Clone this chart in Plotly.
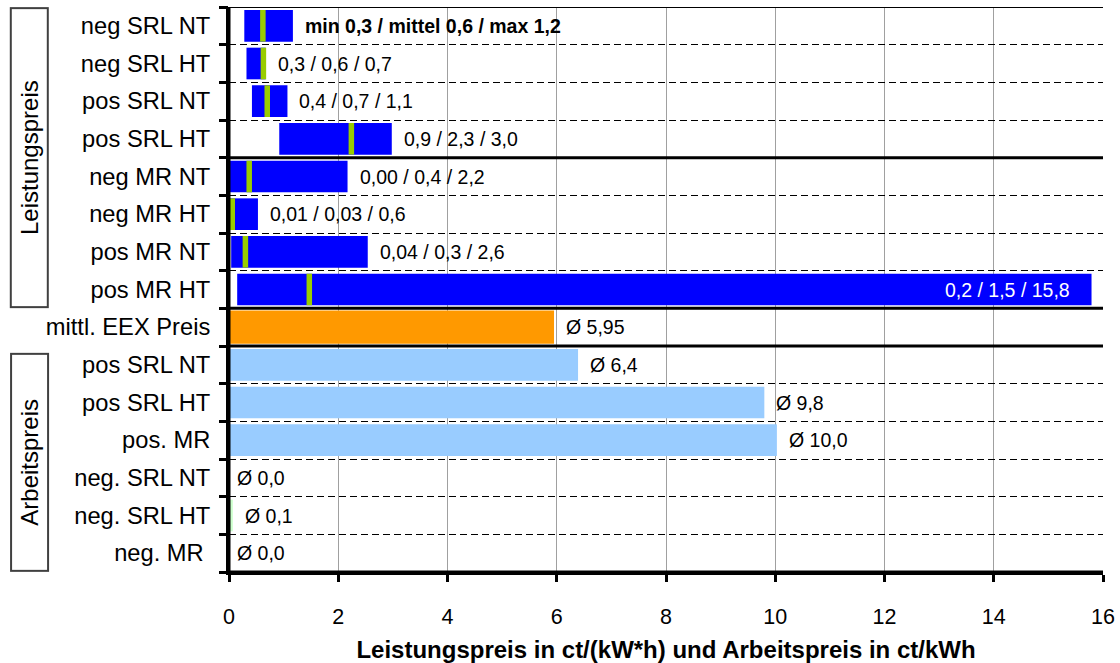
import plotly.graph_objects as go

# ---- data -------------------------------------------------------------
categories = ["neg SRL NT", "neg SRL HT", "pos SRL NT", "pos SRL HT",
              "neg MR NT", "neg MR HT", "pos MR NT", "pos MR HT",
              "mittl. EEX Preis",
              "pos SRL NT", "pos SRL HT", "pos. MR",
              "neg. SRL NT", "neg. SRL HT", "neg. MR\u00a0"]

# Leistungspreis (min / mean / max), ct/(kW*h)
lp_min = [0.28, 0.32, 0.42, 0.92, 0.00, 0.01, 0.04, 0.15]
lp_mean = [0.62, 0.63, 0.70, 2.24, 0.37, 0.06, 0.30, 1.47]
lp_max = [1.17, 0.67, 1.07, 2.98, 2.17, 0.53, 2.54, 15.79]
lp_labels = ["<b>min 0,3 / mittel 0,6 / max 1,2</b>", "0,3 / 0,6 / 0,7",
             "0,4 / 0,7 / 1,1", "0,9 / 2,3 / 3,0", "0,00 / 0,4 / 2,2",
             "0,01 / 0,03 / 0,6", "0,04 / 0,3 / 2,6", "0,2 / 1,5 / 15,8"]

# mittlerer EEX Preis, ct/kWh
eex_value = [5.95]
eex_labels = ["Ø 5,95"]

# Arbeitspreis, ct/kWh
ap_values = [6.39, 9.80, 10.03, 0.0, 0.07, 0.0]
ap_labels = ["Ø 6,4", "Ø 9,8", "Ø 10,0", "Ø 0,0", "Ø 0,1", "Ø 0,0"]

x_ticks = [0, 2, 4, 6, 8, 10, 12, 14, 16]

# ---- styling ------------------------------------------------------------
FONT = "Liberation Sans, Arial, sans-serif"
BLUE = "#0000FF"
GREEN = "#99CC00"
ORANGE = "#FF9900"
LIGHTBLUE = "#99CCFF"
LIGHTGREEN = "#CCFFCC"

n_lp = len(lp_min)
lp_rows = list(range(n_lp))
eex_rows = [n_lp]
ap_rows = list(range(n_lp + 1, n_lp + 1 + len(ap_values)))
n_rows = len(categories)
ap_colors = [LIGHTBLUE if v > 1 else LIGHTGREEN for v in ap_values]

fig = go.Figure()
fig.add_trace(go.Bar(
    y=lp_rows, base=lp_min, x=[mx - mn for mn, mx in zip(lp_min, lp_max)],
    orientation="h", width=0.84, marker=dict(color=BLUE, line=dict(width=0)),
    showlegend=False, hoverinfo="skip"))
fig.add_trace(go.Bar(
    y=eex_rows, x=eex_value, orientation="h", width=0.88,
    marker=dict(color=ORANGE, line=dict(width=0)), showlegend=False, hoverinfo="skip"))
fig.add_trace(go.Bar(
    y=ap_rows, x=ap_values, orientation="h", width=0.84,
    marker=dict(color=ap_colors, line=dict(width=0)), showlegend=False, hoverinfo="skip"))
fig.add_trace(go.Scatter(
    x=lp_mean, y=lp_rows, mode="markers", yaxis="y2",
    marker=dict(symbol="line-ns", size=22.6, line=dict(width=5.5, color=GREEN)),
    showlegend=False, hoverinfo="skip"))

annotations = []
xmax = x_ticks[-1]
for r, mx, lab in zip(lp_rows, lp_max, lp_labels):
    if mx > 0.8 * xmax:
        annotations.append(dict(x=mx, y=r, xref="x", yref="y", text=lab, showarrow=False,
                                xanchor="right", xshift=-20,
                                font=dict(family=FONT, size=19.5, color="white")))
    else:
        annotations.append(dict(x=mx, y=r, xref="x", yref="y", text=lab, showarrow=False,
                                xanchor="left", xshift=10,
                                font=dict(family=FONT, size=19.5, color="black")))
for r, v, lab in zip(eex_rows + ap_rows, eex_value + ap_values, eex_labels + ap_labels):
    annotations.append(dict(x=v, y=r, xref="x", yref="y", text=lab, showarrow=False,
                            xanchor="left", xshift=10 if v > 0 else 6,
                            font=dict(family=FONT, size=19.5, color="black")))

# group boxes
annotations.append(dict(x=-0.2283, y=(lp_rows[0] + lp_rows[-1]) / 2, xref="paper", yref="y",
                        text="Leistungspreis", textangle=-90, showarrow=False,
                        width=297, height=35, bordercolor="#404040", borderwidth=2, borderpad=0,
                        xanchor="center", yanchor="middle",
                        font=dict(family=FONT, size=24, color="black")))
annotations.append(dict(x=-0.2283, y=11.59, xref="paper", yref="y",
                        text="Arbeitspreis", textangle=-90, showarrow=False,
                        width=215, height=35, bordercolor="#404040", borderwidth=2, borderpad=0,
                        xanchor="center", yanchor="middle",
                        font=dict(family=FONT, size=24, color="black")))

shapes = []
for yb in [lp_rows[3] + 0.5, lp_rows[-1] + 0.5, eex_rows[0] + 0.5]:
    shapes.append(dict(type="line", xref="paper", yref="y", x0=0, x1=1, y0=yb, y1=yb,
                       line=dict(color="black", width=3)))
shapes.append(dict(type="line", xref="paper", yref="y", x0=0, x1=1, y0=-0.5, y1=-0.5,
                   line=dict(color="black", width=2)))
# frame lines on bottom and left (kept above the bars)
shapes.append(dict(type="line", xref="paper", yref="paper", x0=0, x1=1, y0=0, y1=0,
                   line=dict(color="black", width=3), layer="above"))
shapes.append(dict(type="line", xref="paper", yref="paper", x0=0, x1=0, y0=0, y1=1,
                   line=dict(color="black", width=3), layer="above"))

yrange = [n_rows - 0.5, -0.5]
fig.update_layout(
    width=1120, height=663,
    margin=dict(l=229, r=17, t=7, b=91, autoexpand=False),
    paper_bgcolor="white", plot_bgcolor="white",
    barmode="overlay",
    font=dict(family=FONT, color="black"),
    xaxis=dict(range=[0, 16], tickvals=x_ticks, ticktext=[str(t) for t in x_ticks],
               showgrid=True, gridcolor="#A0A0A0", gridwidth=1, zeroline=False,
               showline=True, linecolor="black", linewidth=3,
               ticks="outside", ticklen=7, tickwidth=3, tickcolor="black",
               tickfont=dict(family=FONT, size=21.5), ticklabelstandoff=16,
               automargin=False,
               title=dict(text="<b>Leistungspreis in ct/(kW*h) und Arbeitspreis in ct/kWh</b>",
                          font=dict(family=FONT, size=24), standoff=18)),
    yaxis=dict(range=yrange, tickvals=list(range(n_rows)), ticktext=categories,
               ticks="", showgrid=False, zeroline=False, automargin=False,
               showline=True, linecolor="black", linewidth=3,
               tickfont=dict(family=FONT, size=23.7), ticklabelstandoff=11),
    yaxis2=dict(range=yrange, overlaying="y", side="left",
                tickvals=[i - 0.5 for i in range(n_rows + 1)],
                ticks="outside", ticklen=9, tickwidth=3, tickcolor="black",
                showticklabels=False, showgrid=True, gridcolor="black", gridwidth=1,
                griddash="7px,4px", zeroline=False, showline=False),
    annotations=annotations,
    shapes=shapes,
)

# remove the browser's default body margin so the figure fills the window exactly
fig.write_html("out.html", config={"displayModeBar": False},
               post_script="document.body.style.margin='0';document.body.style.overflow='hidden';")
